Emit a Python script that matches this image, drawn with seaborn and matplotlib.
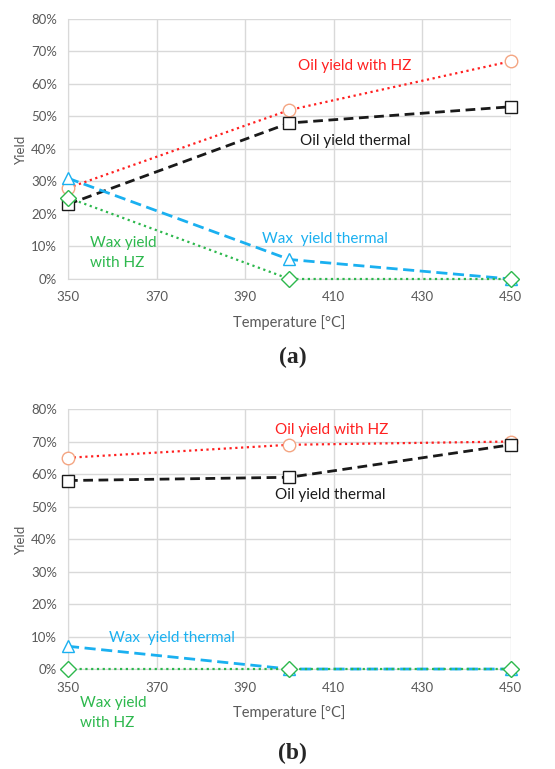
import matplotlib
matplotlib.use("Agg")
import matplotlib.pyplot as plt
import seaborn as sns
import pandas as pd
from matplotlib.ticker import PercentFormatter

temps = [350, 400, 450]
a_oil_hz = [0.28, 0.52, 0.67]
a_oil_th = [0.23, 0.48, 0.53]
a_wax_th = [0.31, 0.06, 0.00]
a_wax_hz = [0.25, 0.00, 0.00]

b_oil_hz = [0.65, 0.69, 0.70]
b_oil_th = [0.58, 0.59, 0.69]
b_wax_th = [0.07, 0.00, 0.00]
b_wax_hz = [0.00, 0.00, 0.00]

xticks = [350, 370, 390, 410, 430, 450]

sns.set_style("whitegrid")
plt.rcParams['font.family'] = ['Lato', 'DejaVu Sans']

fig = plt.figure(figsize=(5.55, 7.69), dpi=100)
ax_a = fig.add_axes([0.1225, 0.6372, 0.798, 0.3381])
ax_b = fig.add_axes([0.1225, 0.1300, 0.798, 0.3381])

GRAY = "#595959"
RED = "#FF2020"
BLACK = "#1A1A1A"
BLUE = "#1AB0F0"
GREEN = "#2DB84D"


def draw(ax, oil_hz, oil_th, wax_th, wax_hz):
    sns.lineplot(x=temps, y=oil_hz, ax=ax, color=RED, linestyle=(0, (1, 1.6)), lw=1.6,
                 marker='o', markersize=9, markerfacecolor='white',
                 markeredgecolor='#F4A582', markeredgewidth=1.0, zorder=3, clip_on=False)
    sns.lineplot(x=temps, y=oil_th, ax=ax, color=BLACK, linestyle=(0, (3.5, 2)), lw=2.0,
                 marker='s', markersize=9, markerfacecolor='white',
                 markeredgecolor=BLACK, markeredgewidth=1.0, zorder=3, clip_on=False)
    sns.lineplot(x=temps, y=wax_th, ax=ax, color=BLUE, linestyle=(0, (4, 2)), lw=2.0,
                 marker='^', markersize=9, markerfacecolor='white',
                 markeredgecolor=BLUE, markeredgewidth=1.0, zorder=3, clip_on=False)
    sns.lineplot(x=temps, y=wax_hz, ax=ax, color=GREEN, linestyle=(0, (1, 1.6)), lw=1.6,
                 marker='D', markersize=8, markerfacecolor='white',
                 markeredgecolor=GREEN, markeredgewidth=1.0, zorder=3, clip_on=False)
    ax.set_xlim(350, 450)
    ax.set_ylim(0, 0.8)
    ax.set_xticks(xticks)
    ax.set_yticks([0, 0.1, 0.2, 0.3, 0.4, 0.5, 0.6, 0.7, 0.8])
    ax.yaxis.set_major_formatter(PercentFormatter(1.0, decimals=0))
    ax.tick_params(axis='both', colors=GRAY, labelsize=9.5, length=0)
    ax.tick_params(axis='x', pad=9)
    ax.tick_params(axis='y', pad=8)
    ax.grid(True, color="#D9D9D9", lw=1.0)
    for s in ax.spines.values():
        s.set_visible(False)
    ax.spines['left'].set_visible(True)
    ax.spines['left'].set_color("#D9D9D9")
    ax.spines['bottom'].set_visible(True)
    ax.spines['bottom'].set_color("#D9D9D9")
    ax.set_ylabel("Yield", color=GRAY, fontsize=9.5, labelpad=3)
    ax.set_xlabel("Temperature [\u00b0C]", color=GRAY, fontsize=10.5, labelpad=8)


draw(ax_a, a_oil_hz, a_oil_th, a_wax_th, a_wax_hz)
draw(ax_b, b_oil_hz, b_oil_th, b_wax_th, b_wax_hz)

fs = 11
ax_a.text(402, 0.655, "Oil yield with HZ", color=RED, fontsize=fs, va='center')
ax_a.text(402.4, 0.425, "Oil yield thermal", color=BLACK, fontsize=fs, va='center')
ax_a.text(393.8, 0.123, "Wax  yield thermal", color=BLUE, fontsize=fs, va='center')
ax_a.text(355, 0.079, "Wax yield\nwith HZ", color=GREEN, fontsize=fs, va='center',
          linespacing=1.55)

ax_b.text(396.7, 0.735, "Oil yield with HZ", color=RED, fontsize=fs, va='center')
ax_b.text(396.7, 0.534, "Oil yield thermal", color=BLACK, fontsize=fs, va='center')
ax_b.text(359.3, 0.096, "Wax  yield thermal", color=BLUE, fontsize=fs, va='center')
ax_b.text(352.7, -0.135, "Wax yield\nwith HZ", color=GREEN, fontsize=fs, va='center',
          linespacing=1.55, clip_on=False)

fig.text(0.527, 1 - 357 / 769, "(a)", fontsize=17, fontweight='bold',
         family='Liberation Serif', ha='center', va='center')
fig.text(0.527, 1 - 753 / 769, "(b)", fontsize=17, fontweight='bold',
         family='Liberation Serif', ha='center', va='center')

fig.savefig("out.png", dpi=100, facecolor='white')
